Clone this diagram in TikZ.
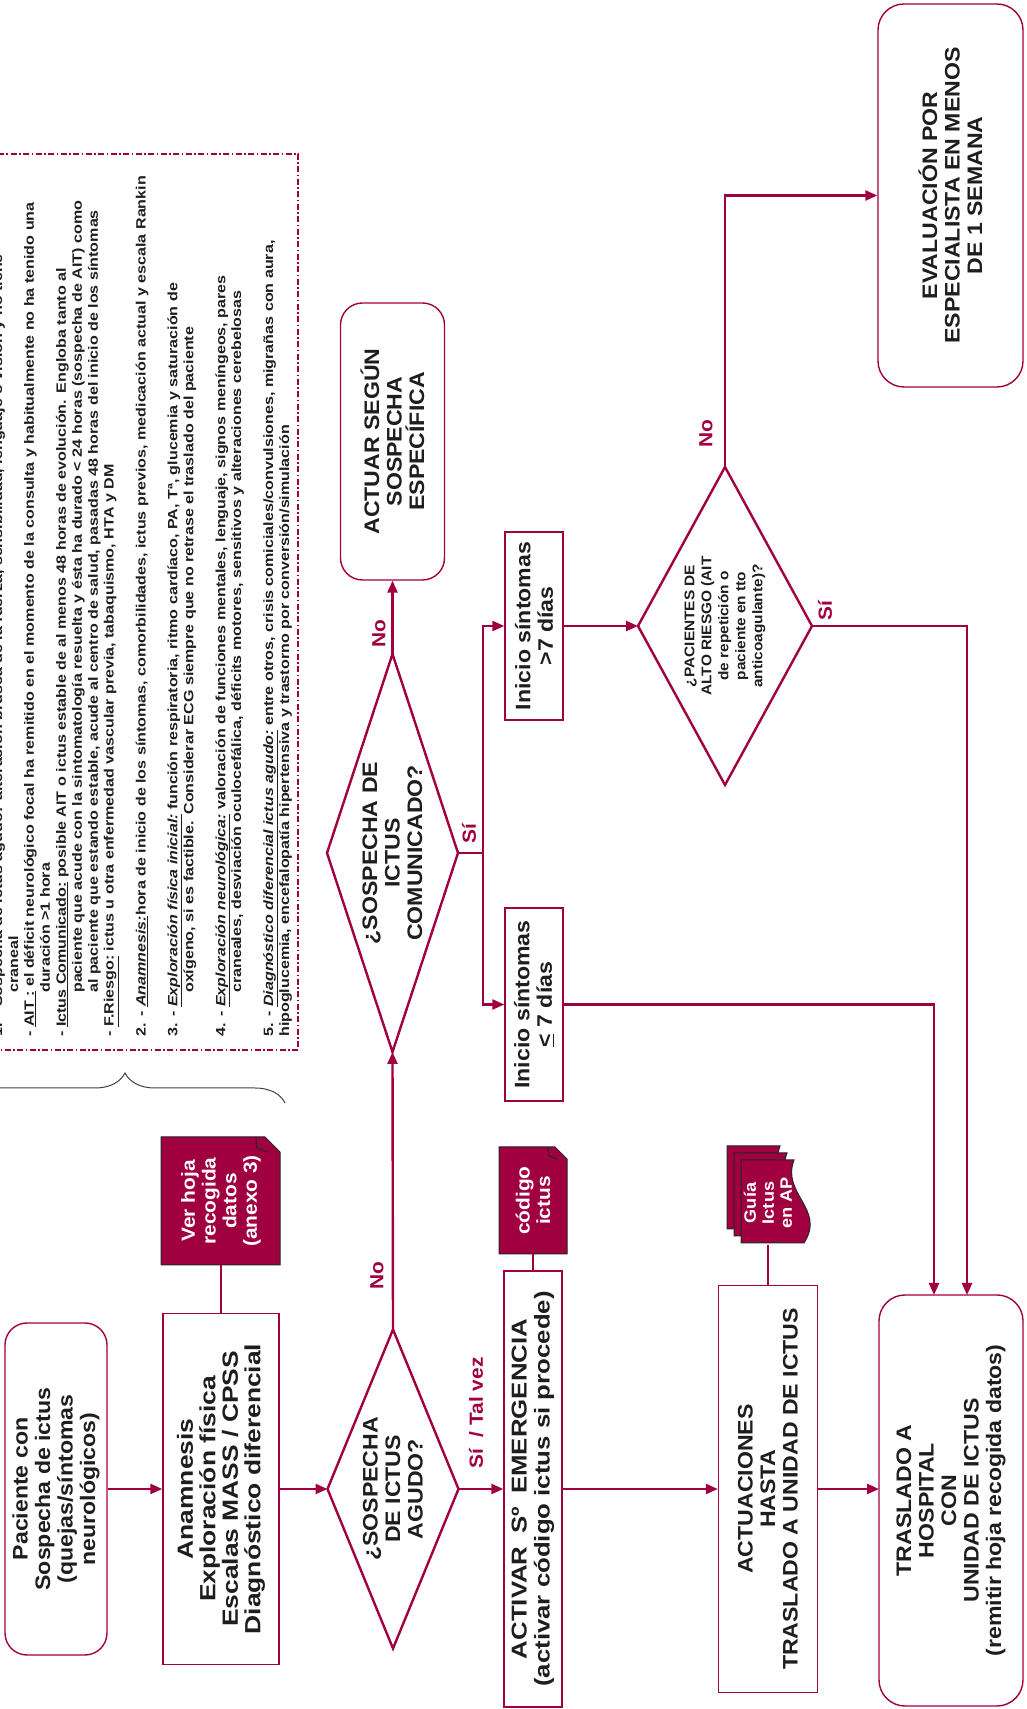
\documentclass[tikz,border=0pt]{standalone}
\usepackage{fontspec}
\setmainfont{Liberation Sans}
\newfontfamily\bxf{Liberation Sans}[FakeStretch=1.1]
\newfontfamily\bxg{Liberation Sans}[FakeStretch=1.2]
\newfontfamily\ntf{Liberation Sans}[FakeStretch=1.19]
\usetikzlibrary{arrows.meta,decorations.pathreplacing}
\definecolor{mg}{RGB}{160,0,64}
\definecolor{tx}{RGB}{30,30,30}
\tikzset{
  bx/.style={draw=mg, line width=1.4pt, fill=white, align=center, text=tx, inner sep=0pt, font=\bxf\bfseries\fontsize{21}{22.5}\selectfont},
  rbx/.style={bx, rounded corners=22pt},
  diash/.style={draw=mg, line width=2.4pt, fill=white},
  diatext/.style={align=center, text=tx, inner sep=0pt, font=\bxf\bfseries\fontsize{21}{22.5}\selectfont},
  arr/.style={draw=mg, line width=2.4pt, -{Triangle[length=12pt,width=10pt]}},
  ln/.style={draw=mg, line width=2.4pt},
  tln/.style={draw=mg, line width=1.2pt},
  lab/.style={text=mg, inner sep=0pt, font=\bxf\bfseries\fontsize{19}{20}\selectfont},
  doctext/.style={text=white, align=center, inner sep=0pt, font=\bxf\bfseries\fontsize{19}{20.7}\selectfont},
  docshape/.style={fill=mg, draw=black!85, line width=1pt},
}
\begin{document}
\begin{tikzpicture}[x=1pt,y=1pt]
\useasboundingbox (0,0) rectangle (1026,1709);
\begin{scope}[shift={(1026,0)}, rotate=90, transform shape]

% ---------- notes box ----------
\draw[mg, line width=2pt, dash pattern=on 6pt off 2.5pt on 1.5pt off 2.5pt] (659,728) rectangle (1555,1080);
\node[anchor=south west, inner sep=0pt, text width=875pt, align=left, text=tx,
      font=\ntf\bfseries\fontsize{13.5}{15.94}\selectfont] (notes) at (672,733.9) {%
\makebox[875pt][s]{1. - Sospecha de ictus agudo: alteración brusca de la fuerza, sensibilidad, lenguaje o visión y no tiene}\\
\hspace*{44pt}craneal\\
\makebox[875pt][s]{- \underline{AIT :} el déficit neurológico focal ha remitido en el momento de la consulta y habitualmente no ha tenido una}\\
\hspace*{44pt}duración >1 hora\\
\makebox[875pt][s]{- \underline{Ictus Comunicado:} posible AIT o ictus estable de al menos 48 horas de evolución. Engloba tanto al}\\
\hspace*{44pt}\makebox[831pt][s]{paciente que acude con la sintomatología resuelta y ésta ha durado < 24 horas (sospecha de AIT) como}\\
\hspace*{44pt}\makebox[831pt][s]{al paciente que estando estable, acude al centro de salud, pasadas 48 horas del inicio de los síntomas}\\
- \underline{F.Riesgo:} ictus u otra enfermedad vascular previa, tabaquismo, HTA y DM\\[15.94pt]
\makebox[875pt][s]{2. - \underline{\itshape Anamnesis:}hora de inicio de los síntomas, comorbilidades, ictus previos, medicación actual y escala Rankin}\\[15.94pt]
\makebox[875pt][s]{3. - \underline{\itshape Exploración física inicial:} función respiratoria, ritmo cardíaco, PA, Tª, glucemia y saturación de}\\
\hspace*{44pt}oxígeno, si es factible. Considerar ECG siempre que no retrase el traslado del paciente\\[15.94pt]
\makebox[875pt][s]{4. - \underline{\itshape Exploración neurológica:} valoración de funciones mentales, lenguaje, signos meníngeos, pares}\\
\hspace*{44pt}craneales, desviación oculocefálica, déficits motores, sensitivos y alteraciones cerebelosas\\[15.94pt]
\makebox[875pt][s]{5. - \underline{\itshape Diagnóstico diferencial ictus agudo:} entre otros, crisis comiciales/convulsiones, migrañas con aura,}\\
hipoglucemia, encefalopatía hipertensiva y trastorno por conversión/simulación};

\draw[decorate, decoration={brace, amplitude=30pt}, draw=black!75, line width=1pt] (606,1061) -- (606,741);

% ---------- main column ----------
\node[rbx, minimum width=332, minimum height=102] (pac) at (220,970) {Paciente con\\Sospecha de ictus\\(quejas/síntomas\\neurológicos)};
\node[bx, minimum width=351, minimum height=116, font=\bxg\bfseries\fontsize{22}{22.5}\selectfont] (ana) at (220,805) {Anamnesis\\Exploración física\\Escalas MASS / CPSS\\Diagnóstico diferencial};

\coordinate (d1w) at (60.5,633); \coordinate (d1e) at (379.5,633);
\coordinate (d1n) at (220,698.5); \coordinate (d1s) at (220,567.5);
\draw[diash] (d1w) -- (d1n) -- (d1e) -- (d1s) -- cycle;
\node[diatext] (d1) at (220,633) {¿SOSPECHA\\DE ICTUS\\AGUDO?};

\node[bx, minimum width=436, minimum height=58, font=\bxg\bfseries\fontsize{21.5}{23}\selectfont] (act) at (220,493) {ACTIVAR\hspace{13pt}Sº\hspace{13pt}EMERGENCIA\\(activar código ictus si procede)};
\node[bx, minimum width=407, minimum height=99] (actu) at (220,258) {ACTUACIONES\\HASTA\\TRASLADO A UNIDAD DE ICTUS};
\node[rbx, rounded corners=26pt, minimum width=411, minimum height=144] (tras) at (208.5,75) {TRASLADO A\\HOSPITAL\\CON\\UNIDAD DE ICTUS\\(remitir hoja recogida datos)};

% ---------- second column ----------
\coordinate (d2w) at (657,633.5); \coordinate (d2e) at (1055,633.5);
\coordinate (d2n) at (856,699); \coordinate (d2s) at (856,568);
\draw[diash] (d2w) -- (d2n) -- (d2e) -- (d2s) -- cycle;
\node[diatext] (d2) at (856,633.5) {¿SOSPECHA DE\\ICTUS\\COMUNICADO?};

\node[rbx, minimum width=277, minimum height=104] (acts) at (1267.5,633.5) {ACTUAR SEGÚN\\SOSPECHA\\ESPECÍFICA};
\node[bx, minimum width=193, minimum height=58] (le7) at (704.5,492) {Inicio síntomas\\\underline{<} 7 días};
\node[bx, minimum width=188, minimum height=58] (gt7) at (1083,492) {Inicio síntomas\\>7 días};

\coordinate (d3w) at (924,301); \coordinate (d3e) at (1242,301);
\coordinate (d3n) at (1083,388); \coordinate (d3s) at (1083,214);
\draw[diash] (d3w) -- (d3n) -- (d3e) -- (d3s) -- cycle;
\node[diatext, font=\bxf\bfseries\fontsize{14}{17}\selectfont] (d3) at (1083,301) {¿PACIENTES DE\\ALTO RIESGO (AIT\\de repetición o\\paciente en tto\\anticoagulante)?};

\node[rbx, rounded corners=26pt, minimum width=383, minimum height=145] (eval) at (1513.5,75.5) {EVALUACIÓN POR\\ESPECIALISTA EN MENOS\\DE 1 SEMANA};

% ---------- documents ----------
\path[docshape] (444,746) -- (557,746) -- (572,761) -- (572,865) -- (444,865) -- cycle;
\draw[black!85, line width=1pt] (572,770) -- (561,769) -- (557,758);
\node[doctext, minimum width=128, minimum height=119] (hoja) at (508,805) {Ver hoja\\recogida\\datos\\(anexo 3)};

\path[docshape] (455,459) -- (550,459) -- (562,471) -- (562,527) -- (455,527) -- cycle;
\draw[black!85, line width=1pt] (562,478) -- (553,477) -- (550,468);
\node[doctext, minimum width=107, minimum height=68] (cod) at (508.5,493) {código\\ictus};

\path[docshape] (480,299) -- (563,299) -- (563,246) .. controls (529,259) and (514,214) .. (480,236) -- cycle;
\path[docshape] (473,292) -- (556,292) -- (556,239) .. controls (522,252) and (507,207) .. (473,229) -- cycle;
\path[docshape] (466,285) -- (549,285) -- (549,232) .. controls (515,245) and (500,200) .. (466,222) -- cycle;
\node[doctext, font=\bxf\bfseries\fontsize{16.5}{18}\selectfont, minimum width=83, minimum height=50] (guia) at (506,258) {Guía\\Ictus\\en AP};

% ---------- coordinates ----------
\coordinate (trasN) at (220,147);
\coordinate (br) at (856,543);
\coordinate (brL) at (704.5,543);
\coordinate (brR) at (1083,543);
\coordinate (c3) at (1513.5,301);
\coordinate (c4) at (1083,59);
\coordinate (trasE1) at (414,59);
\coordinate (c5) at (704.5,92);
\coordinate (trasE2) at (414,92);

% ---------- connectors ----------
\draw[arr] (pac) -- (ana);
\draw[arr] (ana) -- (d1n);
\draw[arr] (d1s) -- (act);
\draw[arr] (act) -- (actu);
\draw[arr] (actu) -- (trasN);
\draw[arr] (d1e) -- (d2w);
\draw[arr] (d2e) -- (acts);
\draw[ln] (d2s) -- (br);
\draw[arr] (br) -- (brR) -- (gt7);
\draw[arr] (br) -- (brL) -- (le7);
\draw[arr] (gt7) -- (d3n);
\draw[arr] (d3e) -- (c3) -- (eval);
\draw[arr] (d3s) -- (c4) -- (trasE1);
\draw[arr] (le7.south) -- (c5) -- (trasE2);
\draw[tln] (hoja) -- (ana);
\draw[tln] (cod) -- (act);
\draw[tln] (guia) -- (actu);

% ---------- labels ----------
\node[lab] (lno1) at (433,649) {No};
\node[lab] (lsi1) at (296,550) {Sí\ \ / Tal vez};
\node[lab] (lno2) at (1075,647) {No};
\node[lab] (lsi2) at (875,557) {Sí};
\node[lab] (lno3) at (1275,320) {No};
\node[lab] (lsi3) at (1098,201) {Sí};
\end{scope}
\end{tikzpicture}
\end{document}
